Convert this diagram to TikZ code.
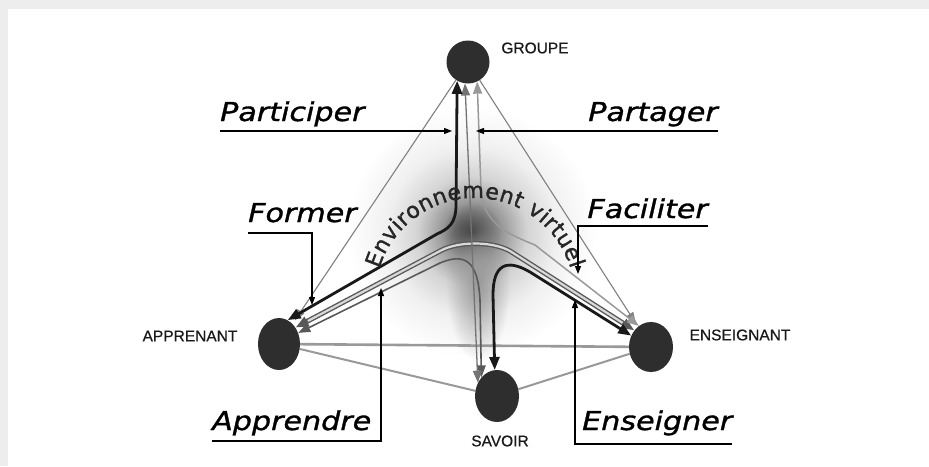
\documentclass[tikz,border=0pt]{standalone}
\usepackage{fontspec}
\setmainfont{DejaVu Sans}
\newfontfamily\lblfont[FakeStretch=1.16,FakeBold=1.2]{DejaVu Sans}
\newfontfamily\nodefont[FakeBold=0.6]{Liberation Sans}
\newfontfamily\envfont[FakeBold=1.3]{DejaVu Sans}
\usetikzlibrary{shapes.geometric,arrows.meta,decorations.text,fadings}
\pgfdeclareradialshading{envshade}{\pgfpoint{0bp}{0bp}}{color(0bp)=(black!88); color(2.5bp)=(black!68); color(6bp)=(black!40); color(11bp)=(black!17); color(17bp)=(black!6); color(25bp)=(white); color(50bp)=(white)}
\tikzfading[name=softdot, inner color=transparent!0, outer color=transparent!100]
\pgfdeclarelayer{bg}
\pgfsetlayers{bg,main}
\begin{document}
\begin{tikzpicture}[x=1pt,y=-1pt,
  dot/.style={ellipse, fill=black!82, inner sep=0pt},
  nlabel/.style={font=\nodefont\fontsize{15.5}{18}\selectfont, text=black!90, inner sep=0pt},
  verb/.style={font=\lblfont\itshape\fontsize{26}{30}\selectfont, text=black, inner sep=0pt},
  callout/.style={line width=1.3pt, black, -{Triangle[length=8pt,width=6pt]}},
  edge/.style={line width=2.6pt, black!40},
  edgetwo/.style={line width=2pt, black!40},
  thinedge/.style={line width=1.1pt, black!50, -{Triangle[length=11pt,width=8pt]}, shorten >=4pt},
  cblack/.style={line width=2.8pt, black!90, {Triangle[length=13pt,width=10pt]}-{Triangle[length=13pt,width=10pt]}},
  cdark/.style={line width=1.6pt, black!65, {Triangle[length=12pt,width=9pt]}-{Triangle[length=12pt,width=9pt]}},
  cmid/.style={line width=1.3pt, black!55, {Triangle[length=12pt,width=9pt]}-{Triangle[length=12pt,width=9pt]}},
  clight/.style={line width=1.5pt, black!40, {Triangle[length=12pt,width=9pt]}-{Triangle[length=12pt,width=9pt]}},
  tubeouter/.style={line width=5pt, black!65, {Triangle[length=13pt,width=10pt]}-{Triangle[length=13pt,width=10pt]}},
  tubeinner/.style={line width=2.2pt, black!15, shorten <=14pt, shorten >=14pt}
]
\useasboundingbox (0,0) rectangle (929,466);

% main nodes
\node[dot, minimum width=43pt, minimum height=43pt] (G) at (468,62) {};
\node[dot, minimum width=42pt, minimum height=52pt] (A) at (279,344) {};
\node[dot, minimum width=44pt, minimum height=50pt] (E) at (651,347) {};
\node[dot, minimum width=44pt, minimum height=52pt] (S) at (497,396) {};

\node[nlabel] (lG) at (535,48) {GROUPE};
\node[nlabel] (lA) at (190,336) {APPRENANT};
\node[nlabel] (lE) at (740,335) {ENSEIGNANT};
\node[nlabel] (lS) at (500,441) {SAVOIR};

\begin{pgfonlayer}{bg}
  \fill[black!7] (0,0) rectangle (929,466);
  \fill[white] (8,9) rectangle (929,466);
  \shade[shading=envshade] (472,232) circle[radius=125];
  \fill[black!40, path fading=softdot] (478,282) ellipse[x radius=32, y radius=80];
  % straight edges
  \draw[edge] (A) -- (E);
  \draw[edgetwo] (A) -- (S);
  \draw[edgetwo] (S) -- (E);
  \draw[thinedge] (G) -- (A);
  \draw[thinedge] (G) -- (E);
  % curved relations
  \draw[tubeouter] (A.45) -- (440,251) .. controls (458,241) and (492,241) .. (510,251) -- (E.135);
  \draw[tubeinner] (A.45) -- (440,251) .. controls (458,241) and (492,241) .. (510,251) -- (E.135);
  \draw[cdark] (A.30) -- (440,263) .. controls (466,252) and (478,262) .. (480,300) -- (S.130);
  \draw[cmid] (G.262) -- (S.145);
  \draw[clight] (G.295) -- (481,190) .. controls (483,222) and (505,233) .. (535,245) -- (E.120);
  \draw[cblack] (G.240) -- (456,205) .. controls (456,224) and (448,229) .. (437,234) -- (A.70);
  \draw[cblack] (E.150) -- (530,272) .. controls (506,258) and (493,265) .. (493,295) -- (S.95);
\end{pgfonlayer}

% curved title
\begin{scope}[y=1pt]
  \path[decorate, decoration={text along path,
      text={|\envfont\fontsize{22}{26}\selectfont\color{black!85}|Environnement virtuel},
      text align={fit to path}}]
    (475,-298) ++(163:100) arc[start angle=163, end angle=17, radius=100];
\end{scope}

% verb labels
\node[verb, anchor=base west] (tPart) at (220,121) {Participer};
\node[verb, anchor=base east] (tPtg) at (718,121) {Partager};
\node[verb, anchor=base west] (tForm) at (248,222) {Former};
\node[verb, anchor=base east] (tFac) at (708,218) {Faciliter};
\node[verb, anchor=base west] (tApp) at (212,430) {Apprendre};
\node[verb, anchor=base west] (tEns) at (582,430) {Enseigner};

\coordinate (kPart) at (452,131);
\coordinate (kPtg) at (476,131);
\coordinate (kForm) at (312,305);
\coordinate (kFac) at (578,274);
\coordinate (kApp) at (381,288);
\coordinate (kEns) at (575,300);

\draw[callout] ([yshift=-10pt]tPart.base west) -- (kPart);
\draw[callout] ([yshift=-10pt]tPtg.base east) -- (kPtg);
\draw[callout] ([yshift=-11pt]tForm.base west) -| (kForm);
\draw[callout] ([yshift=-8pt]tFac.base east) -| (kFac);
\draw[callout] ([yshift=-11pt]tApp.base west) -| (kApp);
\draw[callout] ([yshift=-14pt]tEns.base east) -| (kEns);
\end{tikzpicture}
\end{document}
